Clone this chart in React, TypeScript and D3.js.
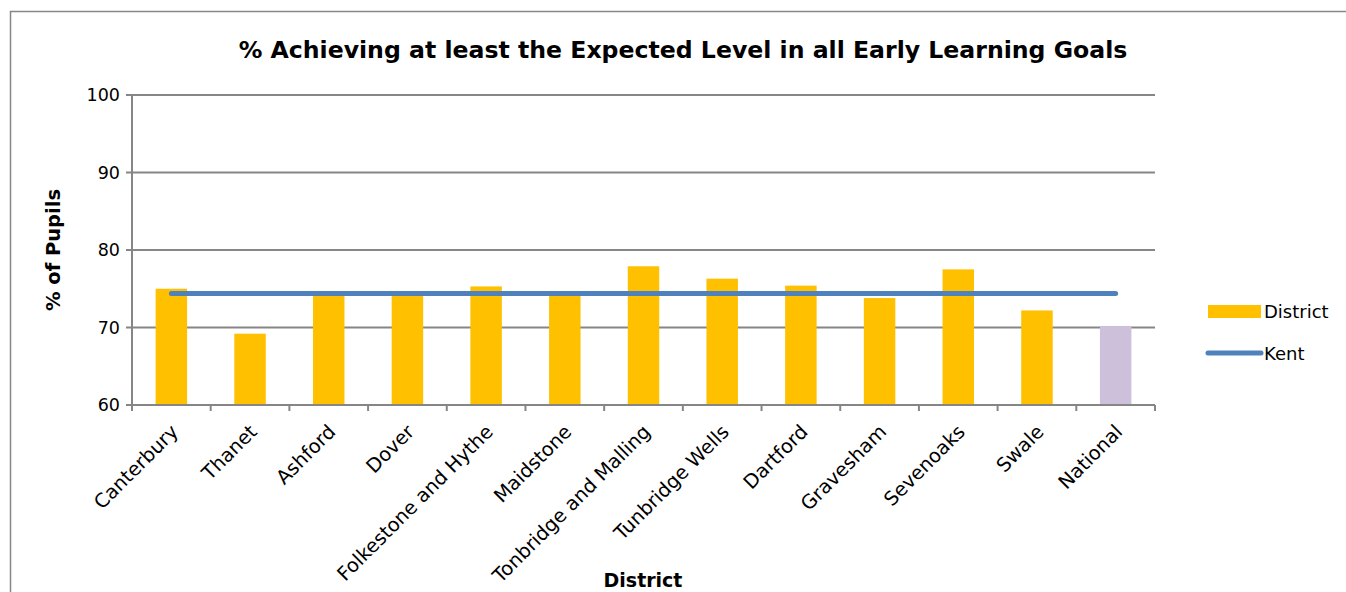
import React from "react";
import * as d3 from "d3";

const categories = ["Canterbury", "Thanet", "Ashford", "Dover", "Folkestone and Hythe", "Maidstone", "Tonbridge and Malling", "Tunbridge Wells", "Dartford", "Gravesham", "Sevenoaks", "Swale", "National"];
const districtValues = [75.0, 69.2, 74.2, 74.2, 75.3, 74.2, 77.9, 76.3, 75.4, 73.8, 77.5, 72.2, 70.2];
const kentValues = [74.4, 74.4, 74.4, 74.4, 74.4, 74.4, 74.4, 74.4, 74.4, 74.4, 74.4, 74.4, 74.4];
const yTicks = [60, 70, 80, 90, 100];

const W = 1346, H = 592;
const left = 132, right = 1155, top = 95, bottom = 405;
const FONT = "DejaVu Sans, Verdana, sans-serif";

export default function App() {
  const x = d3.scaleBand<string>().domain(categories).range([left, right]).paddingInner(0.6).paddingOuter(0.3);
  const xb = d3.scaleBand<string>().domain(categories).range([left, right]);
  const y = d3.scaleLinear().domain([60, 100]).range([bottom, top]);
  const line = d3.line<number>().x((_, i) => (xb(categories[i]) as number) + xb.bandwidth() / 2).y(d => y(d));
  const grey = "#868686";
  return (
    <svg width={W} height={H} style={{ position: "absolute", left: 0, top: 0 }} fontFamily={FONT}>
      <rect x={0} y={0} width={W} height={H} fill="#fff" />
      <rect x={10.5} y={11.5} width={1500} height={800} fill="none" stroke={grey} strokeWidth={1.5} />
      <text x={683} y={58} textAnchor="middle" fontSize={23.6} fontWeight="bold">% Achieving at least the Expected Level in all Early Learning Goals</text>
      {yTicks.map(t => (
        <g key={t}>
          <line x1={left - 6} x2={right} y1={y(t)} y2={y(t)} stroke={grey} strokeWidth={2} />
          <text x={left - 12} y={y(t)} dy="0.35em" textAnchor="end" fontSize={17.5}>{t}</text>
        </g>
      ))}
      {categories.map((c, i) => (
        <rect key={c} x={x(c)} y={y(districtValues[i])} width={x.bandwidth()} height={bottom - y(districtValues[i])} fill={c === "National" ? "#CCC0DA" : "#FFC000"} />
      ))}
      <line x1={left} x2={left} y1={top} y2={bottom + 6} stroke={grey} strokeWidth={2} />
      <line x1={left} x2={right} y1={bottom} y2={bottom} stroke={grey} strokeWidth={2} />
      {categories.map((c, i) => (
        <line key={c} x1={(xb(c) as number) + xb.bandwidth()} x2={(xb(c) as number) + xb.bandwidth()} y1={bottom} y2={bottom + 6} stroke={grey} strokeWidth={2} />
      ))}
      <path d={line(kentValues) as string} fill="none" stroke="#4F81BD" strokeWidth={5} strokeLinecap="round" />
      {categories.map(c => {
        const cx = (xb(c) as number) + xb.bandwidth() / 2 + 8;
        return (
          <text key={c} transform={`translate(${cx},${bottom + 28}) rotate(-45)`} textAnchor="end" fontSize={19.4}>{c}</text>
        );
      })}
      <text transform={`translate(60,250) rotate(-90)`} textAnchor="middle" fontSize={19.5} fontWeight="bold">% of Pupils</text>
      <text x={643} y={587} textAnchor="middle" fontSize={19} fontWeight="bold">District</text>
      <rect x={1208} y={305} width={53} height={13} fill="#FFC000" />
      <text x={1264} y={312} dy="0.35em" fontSize={18}>District</text>
      <line x1={1208} x2={1261} y1={353} y2={353} stroke="#4F81BD" strokeWidth={5} strokeLinecap="round" />
      <text x={1264} y={354} dy="0.35em" fontSize={18}>Kent</text>
    </svg>
  );
}
